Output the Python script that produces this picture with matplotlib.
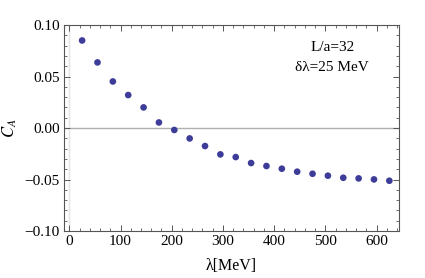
import numpy as np
import matplotlib.pyplot as plt
from matplotlib.ticker import MultipleLocator

# lattice data, L/a=32, dlambda=25 MeV
lam = [25, 55, 85, 115, 145, 175, 205, 235, 265, 295, 325,
       355, 385, 415, 445, 475, 505, 535, 565, 595, 625, 652]
c_a = [0.085, 0.0637, 0.0452, 0.032, 0.020, 0.0054, -0.0019, -0.0101,
       -0.0175, -0.0256, -0.0282, -0.034, -0.0369, -0.0395, -0.0424,
       -0.0444, -0.0463, -0.0483, -0.0489, -0.0499, -0.0512, -0.0512]

plt.rcParams['font.family'] = ['Liberation Serif', 'DejaVu Serif']
plt.rcParams['mathtext.fontset'] = 'stix'

fig = plt.figure(figsize=(4.25, 2.78), dpi=100)
ax = fig.add_axes([0.1506, 0.169, 0.789, 0.741])

ax.axhline(0, color='#b0b0b0', lw=1.0, zorder=1)
ax.axvline(0, color='#e4e4e4', lw=1.0, zorder=1)
# scatter so the last point is clipped at the frame rather than dropped
ax.scatter(lam, c_a, s=23, color='#3d3d99', edgecolors='none', zorder=3)

ax.set_xlim(-10.4, 644.5)
ax.set_ylim(-0.10, 0.10)
ax.xaxis.set_major_locator(MultipleLocator(100))
ax.xaxis.set_minor_locator(MultipleLocator(20))
ax.yaxis.set_major_locator(MultipleLocator(0.05))
ax.yaxis.set_minor_locator(MultipleLocator(0.01))
ax.yaxis.set_major_formatter(plt.FuncFormatter(lambda v, p: f"{v:.2f}".replace('-', '\u2212')))

for s in ax.spines.values():
    s.set_color('#555555')
    s.set_linewidth(0.8)
ax.tick_params(which='both', direction='in', top=True, right=True,
               color='#555555', labelsize=11, pad=3)
ax.tick_params(which='major', length=4, width=0.7)
ax.tick_params(which='minor', length=2, width=0.6)

ax.set_xlabel('λ[MeV]', fontsize=11.5, labelpad=7)
ax.set_ylabel('$C_A$', fontsize=12, labelpad=4)
ax.text(0.80, 0.89, 'L/a=32', transform=ax.transAxes, ha='center', va='center', fontsize=11)
ax.text(0.80, 0.795, 'δλ=25 MeV', transform=ax.transAxes, ha='center', va='center', fontsize=11)

fig.savefig('out.png', dpi=100)
